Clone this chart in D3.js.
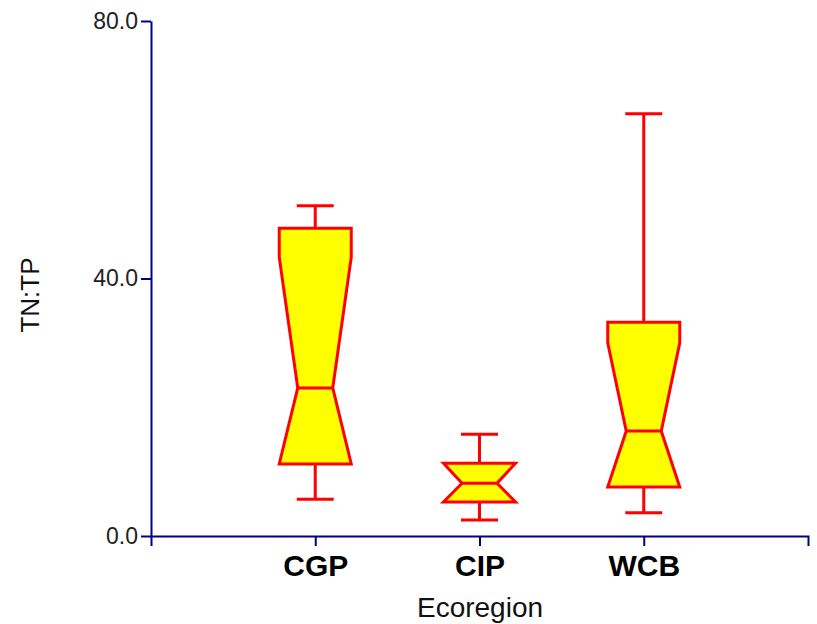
<!DOCTYPE html>
<html>
<head>
<meta charset="utf-8">
<script src="https://cdn.jsdelivr.net/npm/d3@7/dist/d3.min.js"></script>
<style>
  body { margin: 0; background: #fff; }
  svg { display: block; }
</style>
</head>
<body>
<svg id="chart" width="817" height="624"></svg>
<script>
const categories = ["CGP", "CIP", "WCB"];
const whiskerLow  = [5.7, 2.5, 3.6];
const q1          = [11.2, 5.3, 7.6];
const notchLow    = [11.2, 5.3, 7.6];
const median      = [23.0, 8.2, 16.3];
const notchHigh   = [43.3, 11.3, 30.0];
const q3          = [47.8, 11.3, 33.2];
const whiskerHigh = [51.3, 15.8, 65.6];
const yTicks = [0, 40, 80];

const svg = d3.select("#chart");
const axisColor = "#00008B";
const font = "'Liberation Sans', Arial, sans-serif";

const x = d3.scaleLinear().domain([0, categories.length + 1]).range([151, 808]);
const y = d3.scaleLinear().domain([0, 80]).range([536, 21]);

// Y axis
const yAxis = svg.append("g")
  .attr("transform", "translate(151,0)")
  .call(d3.axisLeft(y).tickValues(yTicks).tickFormat(d3.format(".1f")).tickSize(10).tickSizeOuter(0).tickPadding(3));
yAxis.select(".domain").attr("stroke", axisColor).attr("stroke-width", 2);
yAxis.selectAll(".tick line").attr("stroke", axisColor).attr("stroke-width", 2);
yAxis.selectAll(".tick text").attr("font-family", font).attr("font-size", 23).attr("fill", "#222");

// X axis
const xAxis = svg.append("g")
  .attr("transform", "translate(0,536)")
  .call(d3.axisBottom(x).tickValues(categories.map((c, i) => i + 1))
    .tickFormat((d) => categories[d - 1]).tickSize(10).tickSizeOuter(10).tickPadding(3));
xAxis.select(".domain").attr("stroke", axisColor).attr("stroke-width", 2);
xAxis.selectAll(".tick line").attr("stroke", axisColor).attr("stroke-width", 2);
xAxis.selectAll(".tick text").attr("font-family", font).attr("font-size", 30)
  .attr("font-weight", "bold").attr("fill", "#000").attr("y", 40).attr("dy", 0);

// Axis titles
svg.append("text").attr("x", 480).attr("y", 617).attr("text-anchor", "middle")
  .attr("font-family", font).attr("font-size", 28).attr("fill", "#111").text("Ecoregion");
svg.append("text").attr("transform", "translate(39,295) rotate(-90)").attr("text-anchor", "middle")
  .attr("font-family", font).attr("font-size", 26).attr("fill", "#111").text("TN:TP");

// Boxes
const boxHalf = 36, medHalf = 17.5, capHalf = 18.5;
const red = "#FF0000", yellow = "#FFFF00";
const g = svg.append("g");
categories.forEach((c, i) => {
  const cx = x(i + 1);
  const x0 = cx - boxHalf, x1 = cx + boxHalf, m0 = cx - medHalf, m1 = cx + medHalf;
  // whiskers
  g.append("line").attr("x1", cx).attr("x2", cx).attr("y1", y(q3[i])).attr("y2", y(whiskerHigh[i]))
    .attr("stroke", red).attr("stroke-width", 3);
  g.append("line").attr("x1", cx).attr("x2", cx).attr("y1", y(q1[i])).attr("y2", y(whiskerLow[i]))
    .attr("stroke", red).attr("stroke-width", 3);
  g.append("line").attr("x1", cx - capHalf).attr("x2", cx + capHalf).attr("y1", y(whiskerHigh[i])).attr("y2", y(whiskerHigh[i]))
    .attr("stroke", red).attr("stroke-width", 3);
  g.append("line").attr("x1", cx - capHalf).attr("x2", cx + capHalf).attr("y1", y(whiskerLow[i])).attr("y2", y(whiskerLow[i]))
    .attr("stroke", red).attr("stroke-width", 3);
  // notched box
  const pts = [
    [x0, y(q3[i])], [x0, y(notchHigh[i])], [m0, y(median[i])], [x0, y(notchLow[i])], [x0, y(q1[i])],
    [x1, y(q1[i])], [x1, y(notchLow[i])], [m1, y(median[i])], [x1, y(notchHigh[i])], [x1, y(q3[i])]
  ];
  g.append("polygon").attr("points", pts.map(p => p.join(",")).join(" "))
    .attr("fill", yellow).attr("stroke", red).attr("stroke-width", 3).attr("stroke-linejoin", "miter");
  g.append("line").attr("x1", m0).attr("x2", m1).attr("y1", y(median[i])).attr("y2", y(median[i]))
    .attr("stroke", red).attr("stroke-width", 3);
});
</script>
</body>
</html>
